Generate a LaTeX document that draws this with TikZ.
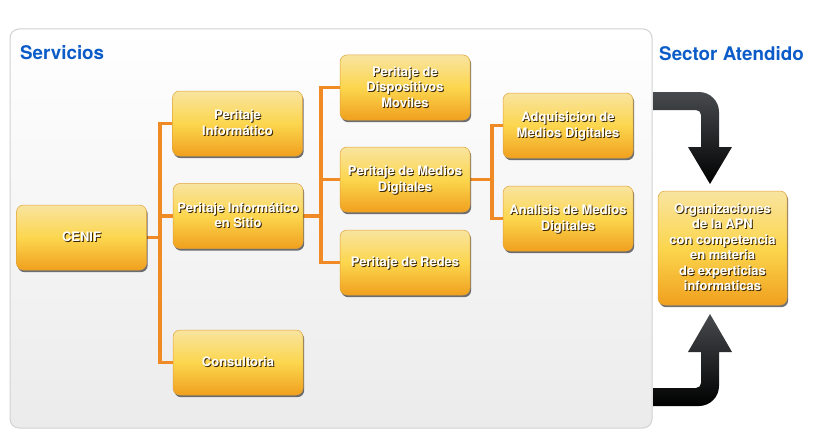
\documentclass[tikz,border=0pt]{standalone}
\usepackage{fontspec}
\setmainfont{TeX Gyre Heros}
\usetikzlibrary{shadows}
\pgfdeclarelayer{panellayer}
\pgfdeclarelayer{connlayer}
\pgfsetlayers{panellayer,connlayer,main}
\definecolor{headblue}{HTML}{0B5CC8}
\definecolor{conncol}{HTML}{F08A24}
\definecolor{boxtop}{HTML}{F8E4A0}
\definecolor{boxmid}{HTML}{FCD64E}
\definecolor{boxbot}{HTML}{F0A01E}
\definecolor{boxedge}{HTML}{E2A238}
\definecolor{txtshadow}{HTML}{3E2804}
\definecolor{panelbot}{HTML}{EBEBEB}
\definecolor{paneledge}{HTML}{D2D2D2}
\definecolor{arrowtop}{HTML}{474A4E}
\newcommand\btab[1]{\begin{tabular}{@{}c@{}}#1\end{tabular}}
\newcommand\shtext[1]{\fontsize{13}{15.5}\selectfont\bfseries\leavevmode\raisebox{0pt}[\dimexpr\height+3pt\relax]{\rlap{\kern1pt\raisebox{-1.2pt}{\color{txtshadow}\btab{#1}}}{\color{white}\btab{#1}}}}
\begin{document}
\begin{tikzpicture}[x=1pt,y=-1pt,
  orgbox/.style={rounded corners=7pt, draw=boxedge, line width=0.5pt,
    top color=boxtop, bottom color=boxbot, middle color=boxmid,
    minimum width=130pt, minimum height=65pt, inner sep=0pt,
    drop shadow={shadow xshift=1.2pt, shadow yshift=-2.2pt, opacity=0.65, fill=black!85}},
  conn/.style={conncol, line width=3.6pt},
  heading/.style={font=\fontsize{18.8}{22}\selectfont\bfseries, text=headblue, anchor=west, inner sep=0pt},
  bigarrow/.style={top color=arrowtop, bottom color=black, draw=none}]
\useasboundingbox (0,0) rectangle (829,444);
% panel
\begin{pgfonlayer}{panellayer}
\path[rounded corners=9pt, top color=white, bottom color=panelbot, draw=paneledge, line width=1pt]
  (10,29) rectangle (652,428);
\end{pgfonlayer}
\node[heading] (servicios) at (20,53) {Servicios};
\node[heading] (sector) at (659,54) {Sector Atendido};
% junction coordinates
\coordinate (j1) at (160,237);
\coordinate (j2) at (321,216);
\coordinate (j3) at (492,180);
% boxes
\node[orgbox] (cenif) at (81.5,237.5) {\shtext{CENIF}};
\node[orgbox] (pi) at (237.5,123.5) {\shtext{Peritaje\\Informático}};
\node[orgbox] (pis) at (238,216) {\shtext{Peritaje Informático\\en Sitio}};
\node[orgbox] (cons) at (238,362.5) {\shtext{Consultoria}};
\node[orgbox] (pdm) at (405,87.5) {\shtext{Peritaje de\\Dispositivos\\Moviles}};
\node[orgbox] (pmd) at (405,179.5) {\shtext{Peritaje de Medios\\Digitales}};
\node[orgbox] (pr) at (405,262.5) {\shtext{Peritaje de Redes}};
\node[orgbox] (amd) at (568,125.5) {\shtext{Adquisicion de\\Medios Digitales}};
\node[orgbox] (anmd) at (568,218.5) {\shtext{Analisis de Medios\\Digitales}};
\node[orgbox, minimum width=129pt, minimum height=114pt] (org) at (722.5,248)
  {\shtext{Organizaciones\\de la APN\\con competencia\\en materia\\de experticias\\informaticas}};
% connectors (behind boxes)
\begin{pgfonlayer}{connlayer}
\draw[conn] (cenif.east) -- (cenif.east -| j1);
\draw[conn] (pi.west) -| (j1) |- (cons.west);
\draw[conn] (j1 |- pis.west) -- (pis.west);
\draw[conn] (pis.east) -- (pis.east -| j2);
\draw[conn] (pdm.west) -| (j2) |- (pr.west);
\draw[conn] (j2 |- pmd.west) -- (pmd.west);
\draw[conn] (pmd.east) -- (pmd.east -| j3);
\draw[conn] (amd.west) -| (j3) |- (anmd.west);
\end{pgfonlayer}
% big arrows into the sector box
\coordinate (a1) at (653,92);
\coordinate (a2) at (653,406);
\path[bigarrow] (a1) -- (699,92) .. controls (710,92) and (719,101) .. (719,112)
  -- (719,147) -- (732,147) -- (710,184) -- (688,147) -- (701,147) -- (701,115)
  .. controls (701,112.2) and (698.8,110) .. (696,110) -- (653,110) -- cycle;
\path[bigarrow] (a2) -- (699,406) .. controls (710,406) and (719,397) .. (719,386)
  -- (719,352) -- (732,352) -- (710,314) -- (688,352) -- (701,352) -- (701,383)
  .. controls (701,385.8) and (698.8,388) .. (696,388) -- (653,388) -- cycle;
\end{tikzpicture}
\end{document}
